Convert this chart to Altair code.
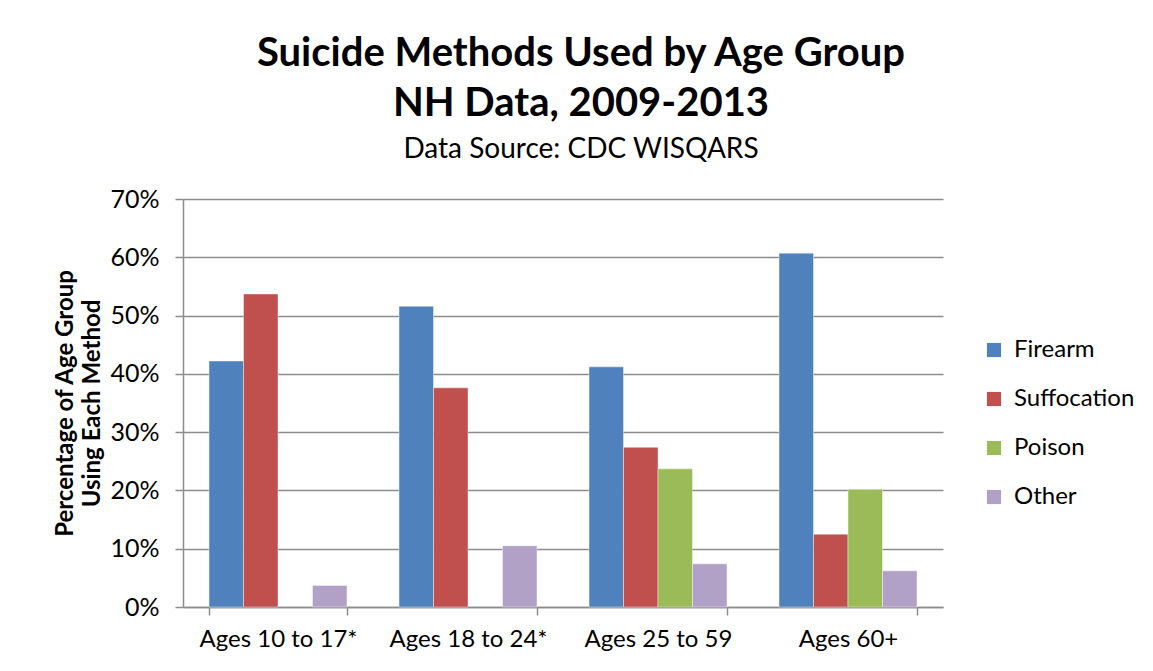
import altair as alt
import pandas as pd

ages = ["Ages 10 to 17*", "Ages 18 to 24*", "Ages 25 to 59", "Ages 60+"]
methods = ["Firearm", "Suffocation", "Poison", "Other"]
colors = ["#4F81BD", "#C0504D", "#9BBB59", "#B2A1C7"]

firearm = [0.422, 0.516, 0.412, 0.607]
suffocation = [0.537, 0.376, 0.274, 0.125]
poison = [None, None, 0.237, 0.202]
other = [0.037, 0.105, 0.074, 0.062]

rows = []
for series, name in zip([firearm, suffocation, poison, other], methods):
    for a, v in zip(ages, series):
        if v is not None:
            rows.append({"age": a, "method": name, "value": v})
df = pd.DataFrame(rows)

FONT = "Lato"
GRID = "#8C8C8C"

chart = alt.Chart(df).mark_bar(stroke="white", strokeWidth=0.6, strokeOpacity=0.7).encode(
    x=alt.X("age:N", sort=ages, title=None,
            scale=alt.Scale(paddingInner=0.274, paddingOuter=0.137),
            axis=alt.Axis(labelAngle=0, labelFontSize=24, labelColor="#000000",
                          labelPadding=12, tickBand="extent", tickSize=8,
                          tickColor=GRID, tickWidth=1.5, domainColor=GRID,
                          domainWidth=1.5, grid=False)),
    xOffset=alt.XOffset("method:N", sort=methods,
                        scale=alt.Scale(domain=methods, paddingInner=0, paddingOuter=0)),
    y=alt.Y("value:Q", scale=alt.Scale(domain=[0, 0.7], nice=False),
            axis=alt.Axis(format=".0%", values=[0, 0.1, 0.2, 0.3, 0.4, 0.5, 0.6, 0.7],
                          title=["Percentage of Age Group", "Using Each Method"],
                          titleFontSize=24, titleFontWeight="bold", titleColor="#000000",
                          titleLineHeight=27, titlePadding=5,
                          labelFontSize=25, labelColor="#000000", labelPadding=16,
                          tickSize=8, tickColor=GRID, tickWidth=1.5,
                          domainColor=GRID, domainWidth=1.5,
                          grid=True, gridColor=GRID, gridWidth=1.5)),
    color=alt.Color("method:N", sort=methods,
                    scale=alt.Scale(domain=methods, range=colors),
                    legend=alt.Legend(title=None, orient="none", legendX=799, legendY=139,
                                      symbolType="square", symbolSize=200,
                                      symbolStrokeWidth=0, labelFontSize=24,
                                      labelColor="#000000", rowPadding=25,
                                      labelOffset=8)),
).properties(
    width=760,
    height=408,
    title=alt.TitleParams(
        text=["Suicide Methods Used by Age Group", "NH Data, 2009-2013"],
        subtitle="Data Source: CDC WISQARS",
        fontSize=40, fontWeight="bold", lineHeight=50, color="#000000",
        subtitleFontSize=28, subtitleColor="#000000", subtitlePadding=12,
        anchor="middle", frame="group", dx=18, offset=23, font=FONT, subtitleFont=FONT,
    ),
    autosize=alt.AutoSizeParams(type="none"),
    padding={"left": 175, "top": 191, "right": 202, "bottom": 56},
).configure(font=FONT).configure_view(stroke=None)

chart.save("out.html", embed_options={"renderer": "svg", "actions": False})
